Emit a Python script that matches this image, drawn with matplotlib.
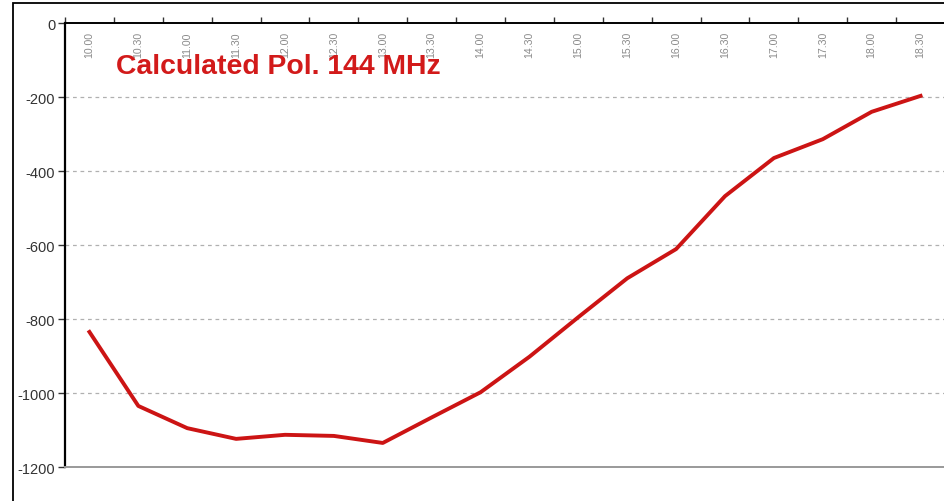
import numpy as np
import matplotlib
matplotlib.use("Agg")
import matplotlib.pyplot as plt
from matplotlib.patches import Rectangle

# half-hour slots and calculated polarisation values
times = ["10.00", "10.30", "11.00", "11.30", "12.00", "12.30", "13.00", "13.30", "14.00",
         "14.30", "15.00", "15.30", "16.00", "16.30", "17.00", "17.30", "18.00", "18.30"]
pol = [-835, -1035, -1095, -1124, -1113, -1116, -1135, -1066, -998,
       -902, -795, -690, -611, -468, -365, -314, -240, -197]
yticks = [0, -200, -400, -600, -800, -1000, -1200]

plt.rcParams["font.family"] = ["Liberation Sans", "DejaVu Sans"]

W, H = 944, 502
fig = plt.figure(figsize=(W / 100, H / 100), dpi=100)
fig.patch.set_facecolor("white")

# outer frame around the chart
fig.patches.append(Rectangle((13 / W, -0.1), 1.2, 1 - 4 / H + 0.1, transform=fig.transFigure,
                             fill=False, edgecolor="black", linewidth=1.3))

ax = fig.add_axes([65 / W, (H - 468) / H, 880 / W, 444 / H])
x = np.arange(len(times))
ax.plot(x, pol, color="#cc1414", linewidth=2.8, solid_joinstyle="round", zorder=3)

ax.set_xlim(-0.5, len(times) - 0.5)
ax.set_ylim(-1200, 0)

# y axis
ax.set_yticks(yticks)
ax.set_yticklabels([str(v) for v in yticks], fontsize=10.5, color="#333333")
ax.tick_params(axis="y", direction="out", length=5, width=1, color="#333333", pad=2)
for v in yticks[1:-1]:
    ax.axhline(v, color="#b0b0b0", linewidth=0.9, linestyle=(0, (3, 3)), zorder=1)

# x axis on top: ticks at slot edges, labels inside at slot centres
ax.xaxis.set_ticks_position("top")
ax.set_xticks(np.arange(len(times) + 1) - 0.5)
ax.set_xticklabels([])
ax.tick_params(axis="x", which="major", direction="out", length=4, width=1, color="#333333")
for xi, t in zip(x, times):
    ax.text(xi, -22, t, rotation=90, ha="center", va="top", fontsize=7.6, color="#8a8a8a")

ax.spines["left"].set_color("black")
ax.spines["left"].set_linewidth(1.6)
ax.spines["top"].set_color("black")
ax.spines["top"].set_linewidth(1.4)
ax.spines["bottom"].set_color("#999999")
ax.spines["bottom"].set_linewidth(1.4)
ax.spines["right"].set_visible(False)

ax.text(0.55, -115, "Calculated Pol. 144 MHz", fontsize=20.4, fontweight="bold",
        color="#d21a1a", ha="left", va="center", zorder=4)

fig.savefig("out.png", dpi=100, facecolor="white")
